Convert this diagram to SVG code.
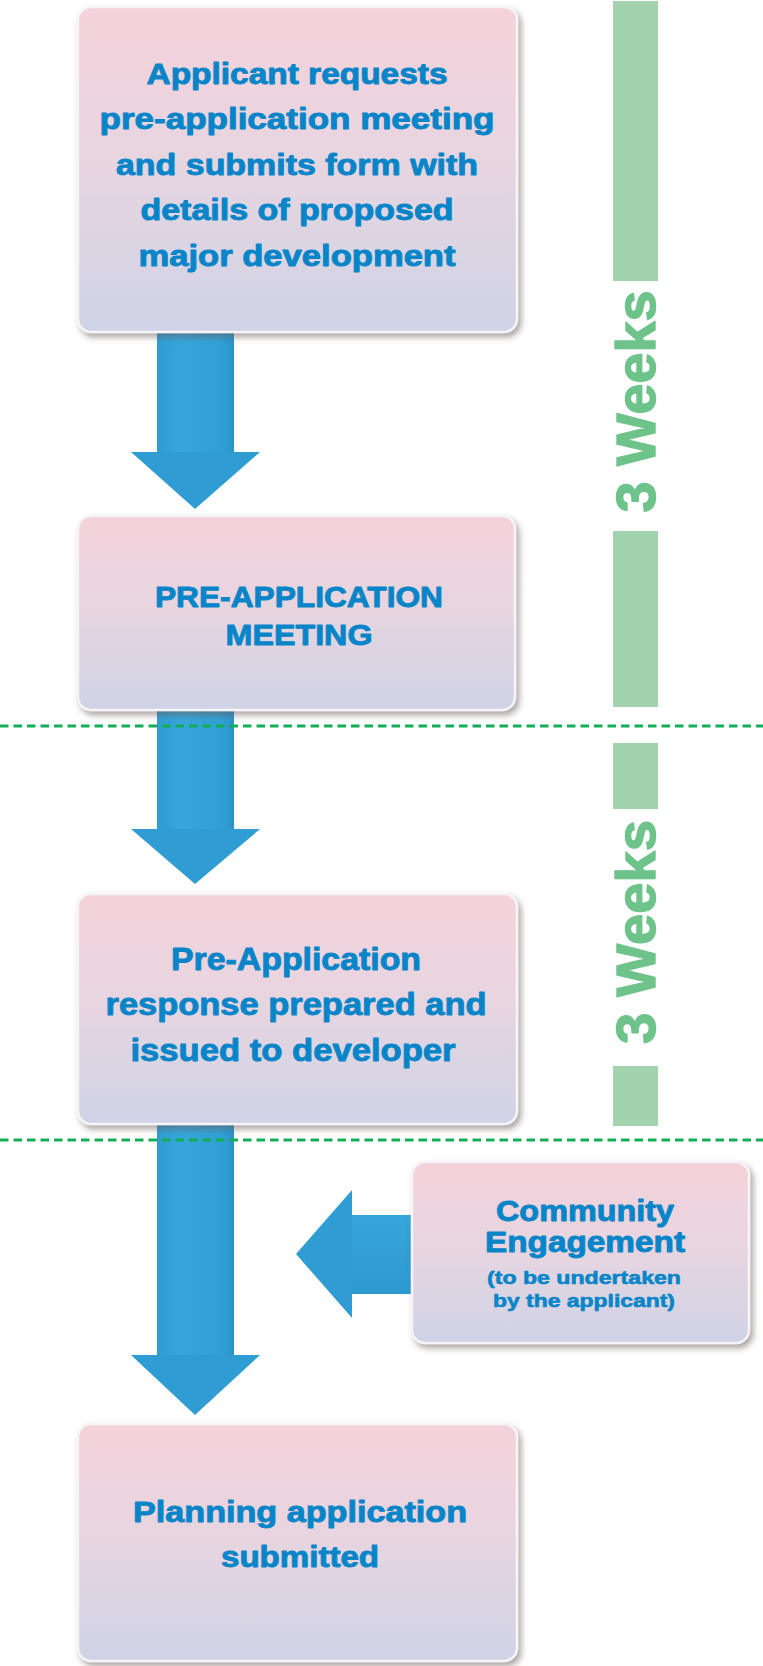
<svg xmlns="http://www.w3.org/2000/svg" width="763" height="1666" viewBox="0 0 763 1666">
  <defs>
    <linearGradient id="boxFill" x1="0" y1="0" x2="0" y2="1">
      <stop offset="0" stop-color="#f4d2db"/>
      <stop offset="0.5" stop-color="#e6d5e0"/>
      <stop offset="1" stop-color="#cfd3e6"/>
    </linearGradient>
    <linearGradient id="shaftV" x1="0" y1="0" x2="1" y2="0">
      <stop offset="0" stop-color="#2f9cd2"/>
      <stop offset="0.3" stop-color="#37a6da"/>
      <stop offset="0.85" stop-color="#309fd5"/>
      <stop offset="1" stop-color="#2a93c9"/>
    </linearGradient>
    <linearGradient id="shaftH" x1="0" y1="0" x2="0" y2="1">
      <stop offset="0" stop-color="#36a5d9"/>
      <stop offset="1" stop-color="#2d9acf"/>
    </linearGradient>
    <filter id="shadow" x="-10%" y="-10%" width="125%" height="125%">
      <feDropShadow dx="3" dy="4" stdDeviation="3" flood-color="#6a5a55" flood-opacity="0.55"/>
    </filter>
    <style>
      .box { fill: url(#boxFill); stroke: #f6f4f7; stroke-width: 2.5; filter: url(#shadow); }
      .lbl { font-family: 'Liberation Sans', Arial, sans-serif; font-weight: bold; fill: #0785c8; stroke: #0785c8; stroke-width: 0.9; stroke-linejoin: round; text-anchor: middle; }
      .big { font-size: 29px; }
      .mid { font-size: 31px; }
      .small { font-size: 18px; stroke-width: 0.6; }
      .head { fill: #2f9dd3; }
      .bar { fill: #a3d3ae; }
      .weeks { font-family: 'Liberation Sans', Arial, sans-serif; font-weight: bold; font-size: 56px; fill: #6ec38a; stroke: #6ec38a; stroke-width: 1.4; stroke-linejoin: round; text-anchor: middle; }
      .divider { stroke: #12ad55; stroke-width: 3; stroke-dasharray: 8.5 5; fill: none; }
    </style>
  </defs>

  <rect width="763" height="1666" fill="#ffffff"/>

  <!-- timeline bars and week labels -->
  <g id="timeline">
    <rect class="bar" x="613" y="1" width="45" height="280"/>
    <rect class="bar" x="613" y="531" width="45" height="176"/>
    <rect class="bar" x="613" y="743" width="45" height="66"/>
    <rect class="bar" x="613" y="1066" width="45" height="60"/>
    <text class="weeks" transform="translate(655,401.5) rotate(-90)" textLength="222" lengthAdjust="spacingAndGlyphs">3 Weeks</text>
    <text class="weeks" transform="translate(655,932) rotate(-90)" textLength="224" lengthAdjust="spacingAndGlyphs">3 Weeks</text>
  </g>

  <!-- block arrows between steps -->
  <g id="connectors">
    <g id="arrow-1">
      <rect x="157" y="320" width="77" height="133" fill="url(#shaftV)"/>
      <polygon class="head" points="131,452 260,452 195,509"/>
    </g>
    <g id="arrow-2">
      <rect x="157" y="700" width="77" height="130" fill="url(#shaftV)"/>
      <polygon class="head" points="131,829 260,829 195,884"/>
    </g>
    <g id="arrow-3">
      <rect x="157" y="1110" width="77" height="246" fill="url(#shaftV)"/>
      <polygon class="head" points="131,1355 260,1355 195,1415"/>
    </g>
    <g id="arrow-community">
      <rect x="351" y="1215" width="70" height="79" fill="url(#shaftH)"/>
      <polygon class="head" points="352,1190 352,1318 296,1254"/>
    </g>
  </g>

  <g id="node-request">
    <rect class="box" x="78" y="7" width="439" height="325" rx="13"/>
    <text class="lbl big" x="297" y="84" textLength="301" lengthAdjust="spacingAndGlyphs">Applicant requests</text>
    <text class="lbl big" x="297" y="129" textLength="395" lengthAdjust="spacingAndGlyphs">pre-application meeting</text>
    <text class="lbl big" x="297" y="175" textLength="362" lengthAdjust="spacingAndGlyphs">and submits form with</text>
    <text class="lbl big" x="297" y="220" textLength="313" lengthAdjust="spacingAndGlyphs">details of proposed</text>
    <text class="lbl big" x="297" y="266" textLength="317" lengthAdjust="spacingAndGlyphs">major development</text>
  </g>

  <g id="node-meeting">
    <rect class="box" x="78" y="516" width="437" height="194" rx="13"/>
    <text class="lbl big" x="299" y="607" textLength="288" lengthAdjust="spacingAndGlyphs">PRE-APPLICATION</text>
    <text class="lbl big" x="299" y="645" textLength="147" lengthAdjust="spacingAndGlyphs">MEETING</text>
  </g>

  <g id="node-response">
    <rect class="box" x="78" y="894" width="439" height="230" rx="13"/>
    <text class="lbl mid" x="296" y="970" textLength="250" lengthAdjust="spacingAndGlyphs">Pre-Application</text>
    <text class="lbl mid" x="296" y="1015" textLength="381" lengthAdjust="spacingAndGlyphs">response prepared and</text>
    <text class="lbl mid" x="293" y="1061" textLength="325" lengthAdjust="spacingAndGlyphs">issued to developer</text>
  </g>

  <g id="node-community">
    <rect class="box" x="412" y="1162" width="337" height="181" rx="13"/>
    <text class="lbl big" x="585" y="1221" textLength="178" lengthAdjust="spacingAndGlyphs">Community</text>
    <text class="lbl big" x="585" y="1252" textLength="200" lengthAdjust="spacingAndGlyphs">Engagement</text>
    <text class="lbl small" x="584" y="1284" textLength="194" lengthAdjust="spacingAndGlyphs">(to be undertaken</text>
    <text class="lbl small" x="584" y="1307" textLength="182" lengthAdjust="spacingAndGlyphs">by the applicant)</text>
  </g>

  <g id="node-submitted">
    <rect class="box" x="78" y="1424" width="439" height="237" rx="13"/>
    <text class="lbl big" x="300" y="1522" textLength="334" lengthAdjust="spacingAndGlyphs">Planning application</text>
    <text class="lbl big" x="300" y="1567" textLength="158" lengthAdjust="spacingAndGlyphs">submitted</text>
  </g>

  <!-- three-week period dividers -->
  <g id="dividers">
    <line class="divider" x1="0" y1="726" x2="763" y2="726"/>
    <line class="divider" x1="0" y1="1140" x2="763" y2="1140"/>
  </g>
</svg>
